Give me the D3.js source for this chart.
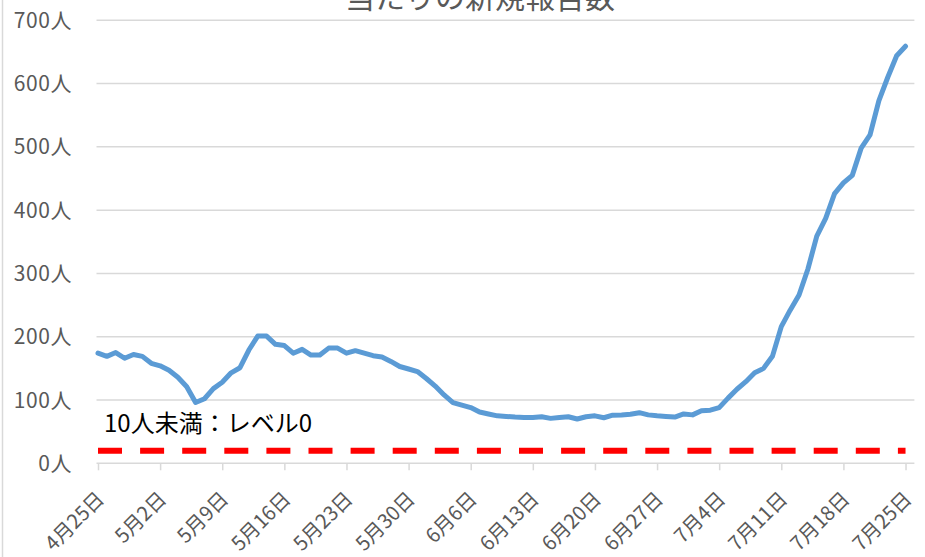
<!DOCTYPE html>
<html>
<head>
<meta charset="utf-8">
<script src="https://cdn.jsdelivr.net/npm/d3@7"></script>
<style>
  html, body { margin: 0; padding: 0; background: #fff; }
  svg { display: block; font-family: "Noto Sans CJK JP", "Noto Sans", sans-serif; }
</style>
</head>
<body>
<svg id="chart" width="925" height="557"></svg>
<script>
// ---- data ----
const titleText = "当たりの新規報告数";
const startDate = "2021-04-25";
const values = [
  174, 169, 175, 166, 172, 169, 158, 154, 147, 136,
  121, 96, 102, 118, 128, 143, 151, 179, 201, 201,
  188, 186, 174, 180, 171, 171, 182, 182, 174, 178,
  174, 170, 168, 161, 153, 149, 145, 134, 122, 108,
  96, 92, 88, 81, 78, 75, 74, 73, 72.5, 72.5,
  73.5, 71, 72.5, 73.5, 70, 73.5, 75, 72, 76, 76.5,
  77.5, 80, 76.5, 75, 74, 73, 78, 76.5, 83, 84,
  88, 103, 117, 129, 143, 150, 169, 216, 242, 266,
  307, 359, 387, 426, 443, 455, 498, 519, 573, 610,
  644, 659
];
const levelValue = 20;
const levelLabel = "10人未満：レベル0";
const xTickLabels = ["4月25日","5月2日","5月9日","5月16日","5月23日","5月30日","6月6日",
                     "6月13日","6月20日","6月27日","7月4日","7月11日","7月18日","7月25日"];
const yTicks = [0, 100, 200, 300, 400, 500, 600, 700];

// ---- setup ----
const svg = d3.select("#chart");
const parse = d3.timeParse("%Y-%m-%d");
const d0 = parse(startDate);
const dates = values.map((v, i) => d3.timeDay.offset(d0, i));
const points = values.map((v, i) => ({ date: dates[i], value: v }));

const x = d3.scaleTime()
  .domain([d0, d3.timeDay.offset(d0, values.length)])
  .range([98, 914.4]);
const y = d3.scaleLinear().domain([0, 700]).range([463.3, 20.3]);

const gridColor = "#d9d9d9";
const textColor = "#595959";

// left frame line
svg.append("line").attr("x1", 2.5).attr("x2", 2.5).attr("y1", 0).attr("y2", 557)
  .attr("stroke", gridColor).attr("stroke-width", 1.5);

// title (partially outside view, as in the reference)
svg.append("text").attr("x", 480).attr("y", 8).attr("text-anchor", "middle")
  .attr("font-size", 30).attr("fill", textColor).text(titleText);

// gridlines
const xStart = x(d0), xEnd = x.range()[1];
svg.append("g").selectAll("line").data(yTicks.filter(d => d > 0)).join("line")
  .attr("x1", xStart - 1.5).attr("x2", xEnd)
  .attr("y1", d => y(d)).attr("y2", d => y(d))
  .attr("stroke", gridColor).attr("stroke-width", 1.5);

// y labels
svg.append("g").selectAll("text").data(yTicks).join("text")
  .attr("x", 72).attr("y", d => y(d)).attr("dy", "0.36em")
  .attr("text-anchor", "end").attr("font-size", 21).attr("fill", textColor)
  .attr("letter-spacing", 0.6)
  .text(d => d + "人");

// x axis
const tickDates = xTickLabels.map((t, i) => d3.timeDay.offset(d0, i * 7));
const xAxis = d3.axisBottom(x).tickValues(tickDates).tickSize(7).tickSizeOuter(0)
  .tickFormat((d, i) => xTickLabels[i]);
const gx = svg.append("g").attr("transform", `translate(0,${y(0)})`).call(xAxis);
gx.select(".domain").attr("stroke", gridColor).attr("stroke-width", 1.5)
  .attr("d", `M${xStart - 1.5},0H${xEnd}`);
gx.selectAll(".tick line").attr("stroke", gridColor).attr("stroke-width", 1.5);
gx.selectAll(".tick text")
  .attr("font-size", 20).attr("fill", textColor)
  .attr("font-family", "'Noto Sans CJK JP', sans-serif")
  .attr("text-anchor", "end")
  .attr("y", 0).attr("dy", "0.35em")
  .attr("transform", "translate(2,32) rotate(-45)");

// level dashed line
const levelLine = d3.line().x(d => x(d.date)).y(() => y(levelValue));
svg.append("path").datum(points).attr("d", levelLine)
  .attr("fill", "none").attr("stroke", "#ff0000").attr("stroke-width", 6)
  .attr("stroke-dasharray", "24 18.1");

// level label
svg.append("text").attr("x", 104).attr("y", 432).attr("font-size", 24)
  .attr("fill", "#000").text(levelLabel);

// main line
const line = d3.line().x(d => x(d.date)).y(d => y(d.value));
svg.append("path").datum(points).attr("d", line)
  .attr("fill", "none").attr("stroke", "#5b9bd5").attr("stroke-width", 5)
  .attr("stroke-linejoin", "round").attr("stroke-linecap", "round");
</script>
</body>
</html>
